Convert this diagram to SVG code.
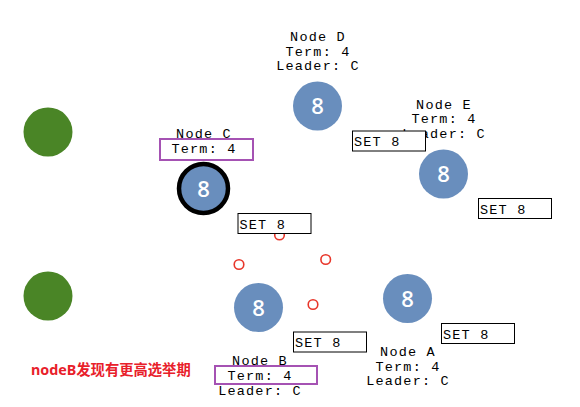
<svg xmlns="http://www.w3.org/2000/svg" width="580" height="407" viewBox="0 0 580 407">
<style>
.lbl{font-family:"Liberation Mono","DejaVu Sans Mono",monospace;font-size:13.5px;letter-spacing:1.2px;fill:#000;text-anchor:middle}
.num{font-family:"Open Sans","Noto Sans",sans-serif;font-size:22px;font-weight:600;fill:#fff;text-anchor:middle}
.node{fill:#698ebd}
.green{fill:#4a8526}
.vote{fill:none;stroke:#e8362a;stroke-width:1.6}
.set rect{fill:#fff;stroke:#000;stroke-width:1}
.set text{font-family:"Liberation Mono","DejaVu Sans Mono",monospace;font-size:13.5px;letter-spacing:1.2px;fill:#000}
.hl{fill:none;stroke:#a552b3;stroke-width:2}
.note{font-family:"Noto Sans","Noto Sans CJK SC",sans-serif;font-size:14.3px;font-weight:bold;fill:#e8202a}
</style>
<g id="client1"><circle class="green" cx="48" cy="132" r="24.5"/></g>
<g id="client2"><circle class="green" cx="48" cy="296" r="24.5"/></g>
<g id="nodeD">
<text class="lbl" x="318" y="41">Node D</text>
<text class="lbl" x="318" y="55.5">Term: 4</text>
<text class="lbl" x="318" y="70">Leader: C</text>
<circle class="node" cx="317.5" cy="106" r="24.5"/>
<text class="num" x="317.5" y="114">8</text>
</g>
<g id="nodeE">
<text class="lbl" x="444" y="108.5">Node E</text>
<text class="lbl" x="444" y="123">Term: 4</text>
<text class="lbl" x="444" y="137.5">Leader: C</text>
<circle class="node" cx="443.5" cy="174" r="24.5"/>
<text class="num" x="443.5" y="182">8</text>
</g>
<g id="nodeC">
<text class="lbl" x="204" y="137.5">Node C</text>
<rect class="hl" x="160" y="139" width="93" height="21"/>
<text class="lbl" x="204" y="152.5">Term: 4</text>
<circle class="node" cx="203.5" cy="188.5" r="24.5" stroke="#000" stroke-width="4.5"/>
<text class="num" x="203.5" y="196.5">8</text>
</g>
<g id="nodeB">
<circle class="node" cx="258.5" cy="307.5" r="24.5"/>
<text class="num" x="258.5" y="315.5">8</text>
<text class="lbl" x="260" y="365">Node B</text>
<rect class="hl" x="215" y="366" width="102" height="18"/>
<text class="lbl" x="260" y="380">Term: 4</text>
<text class="lbl" x="260" y="395">Leader: C</text>
</g>
<g id="nodeA">
<circle class="node" cx="407.5" cy="298.5" r="24.5"/>
<text class="num" x="407.5" y="306.5">8</text>
<text class="lbl" x="408" y="356">Node A</text>
<text class="lbl" x="408" y="370.5">Term: 4</text>
<text class="lbl" x="408" y="385">Leader: C</text>
</g>
<g id="connectors">
<circle class="vote" cx="279.5" cy="235" r="4.8"/>
<circle class="vote" cx="239" cy="264.5" r="4.8"/>
<circle class="vote" cx="325.7" cy="259.5" r="4.8"/>
<circle class="vote" cx="313" cy="304.5" r="4.8"/>
<g class="set"><rect x="352.5" y="131" width="73" height="20"/><text x="354" y="146">SET 8</text></g>
<g class="set"><rect x="478.5" y="198.5" width="73" height="20"/><text x="480" y="213.5">SET 8</text></g>
<g class="set"><rect x="238" y="213.5" width="73" height="20"/><text x="239.5" y="228.5">SET 8</text></g>
<g class="set"><rect x="293.5" y="332" width="73" height="20"/><text x="295" y="347">SET 8</text></g>
<g class="set"><rect x="441.5" y="323.5" width="73" height="20"/><text x="443" y="338.5">SET 8</text></g>
</g>
<text class="note" x="31" y="375">nodeB发现有更高选举期</text>
</svg>
